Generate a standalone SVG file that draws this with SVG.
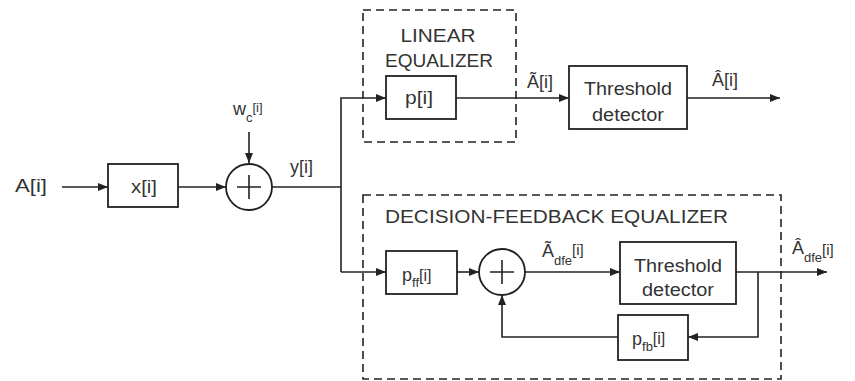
<svg xmlns="http://www.w3.org/2000/svg" width="855" height="381" viewBox="0 0 855 381">
<style>
.ln{fill:none;stroke:#222;stroke-width:1.6}
.bx{fill:#fff;stroke:#222;stroke-width:1.8}
.ds{fill:none;stroke:#222;stroke-width:1.6;stroke-dasharray:8 5}
.t{font-family:"Liberation Sans",Arial,sans-serif;font-size:18px;fill:#333}
.m{text-anchor:middle}
.s{font-size:13px}
</style>
<defs>
<marker id="ah" viewBox="0 0 10 8" refX="10" refY="4" markerWidth="10" markerHeight="8" markerUnits="userSpaceOnUse" orient="auto">
<path d="M0,0 L10,4 L0,8 z" fill="#222"/>
</marker>
</defs>
<rect width="855" height="381" fill="#fff"/>
<g id="linear-eq">
<rect class="ds" x="363" y="10" width="153" height="132"/>
<text class="t m" x="438" y="42" textLength="75" lengthAdjust="spacingAndGlyphs">LINEAR</text>
<text class="t m" x="439" y="67" textLength="108" lengthAdjust="spacingAndGlyphs">EQUALIZER</text>
</g>
<g id="dfe">
<rect class="ds" x="363" y="195" width="418" height="184"/>
<text class="t" x="385" y="223" textLength="343" lengthAdjust="spacingAndGlyphs">DECISION-FEEDBACK EQUALIZER</text>
</g>
<g id="connectors">
<line class="ln" x1="62" y1="187" x2="108" y2="187" marker-end="url(#ah)"/>
<line class="ln" x1="178" y1="187" x2="226" y2="187" marker-end="url(#ah)"/>
<line class="ln" x1="249" y1="132" x2="249" y2="163" marker-end="url(#ah)"/>
<polyline class="ln" points="272,187 341,187"/>
<polyline class="ln" points="341,272 341,98 386,98" marker-end="url(#ah)"/>
<line class="ln" x1="456" y1="98" x2="569" y2="98" marker-end="url(#ah)"/>
<line class="ln" x1="687" y1="98" x2="780" y2="98" marker-end="url(#ah)"/>
<polyline class="ln" points="341,272 386,272" marker-end="url(#ah)"/>
<line class="ln" x1="457" y1="272" x2="479" y2="272" marker-end="url(#ah)"/>
<line class="ln" x1="525" y1="272" x2="620" y2="272" marker-end="url(#ah)"/>
<line class="ln" x1="736" y1="272" x2="827" y2="272" marker-end="url(#ah)"/>
<polyline class="ln" points="758,272 758,337 688,337" marker-end="url(#ah)"/>
<polyline class="ln" points="618,337 502,337 502,295" marker-end="url(#ah)"/>
</g>
<g id="in-label"><text class="t" x="15" y="192" textLength="32" lengthAdjust="spacingAndGlyphs">A[i]</text></g>
<g id="x-box">
<rect class="bx" x="108" y="164" width="70" height="43"/>
<text class="t m" x="144" y="193" textLength="26" lengthAdjust="spacingAndGlyphs">x[i]</text>
</g>
<g id="sum1">
<circle class="bx" cx="249" cy="187" r="23"/>
<path class="ln" d="M237,187 H261 M249,175 V199" stroke-width="1.2"/>
</g>
<g id="wc-label"><text class="t" x="233" y="115">w<tspan class="s" dy="7">c</tspan><tspan class="s" dy="-10" font-size="15">[i]</tspan></text></g>
<g id="y-label"><text class="t" x="290" y="173">y[i]</text></g>
<g id="p-box">
<rect class="bx" x="386" y="76" width="70" height="43"/>
<text class="t m" x="419" y="104" textLength="28" lengthAdjust="spacingAndGlyphs">p[i]</text>
</g>
<g id="atilde-label">
<text class="t" x="527" y="88">Ã[i]</text>
</g>
<g id="thr1">
<rect class="bx" x="569" y="66" width="118" height="63"/>
<text class="t m" x="628" y="95" textLength="88" lengthAdjust="spacingAndGlyphs">Threshold</text>
<text class="t m" x="628" y="121" textLength="72" lengthAdjust="spacingAndGlyphs">detector</text>
</g>
<g id="ahat-label">
<text class="t" x="712" y="86">Â[i]</text>
</g>
<g id="pff-box">
<rect class="bx" x="386" y="251" width="71" height="43"/>
<text class="t" x="402" y="281">p<tspan class="s" dy="6">ff</tspan><tspan dy="-6" font-size="16">[i]</tspan></text>
</g>
<g id="sum2">
<circle class="bx" cx="502" cy="272" r="23"/>
<path class="ln" d="M490,272 H514 M502,260 V284" stroke-width="1.2"/>
</g>
<g id="adfe-tilde-label">
<text class="t" x="542" y="257">Ã<tspan class="s" dy="8">dfe</tspan><tspan font-size="15" dy="-10">[i]</tspan></text>
</g>
<g id="thr2">
<rect class="bx" x="620" y="242" width="116" height="62"/>
<text class="t m" x="678" y="272" textLength="88" lengthAdjust="spacingAndGlyphs">Threshold</text>
<text class="t m" x="678" y="296" textLength="72" lengthAdjust="spacingAndGlyphs">detector</text>
</g>
<g id="pfb-box">
<rect class="bx" x="618" y="315" width="70" height="45"/>
<text class="t" x="632" y="345">p<tspan class="s" dy="6">fb</tspan><tspan dy="-7" font-size="16">[i]</tspan></text>
</g>
<g id="adfe-hat-label">
<text class="t" x="792" y="254">Â<tspan class="s" dy="8">dfe</tspan><tspan font-size="15" dy="-7">[i]</tspan></text>
</g>
</svg>
